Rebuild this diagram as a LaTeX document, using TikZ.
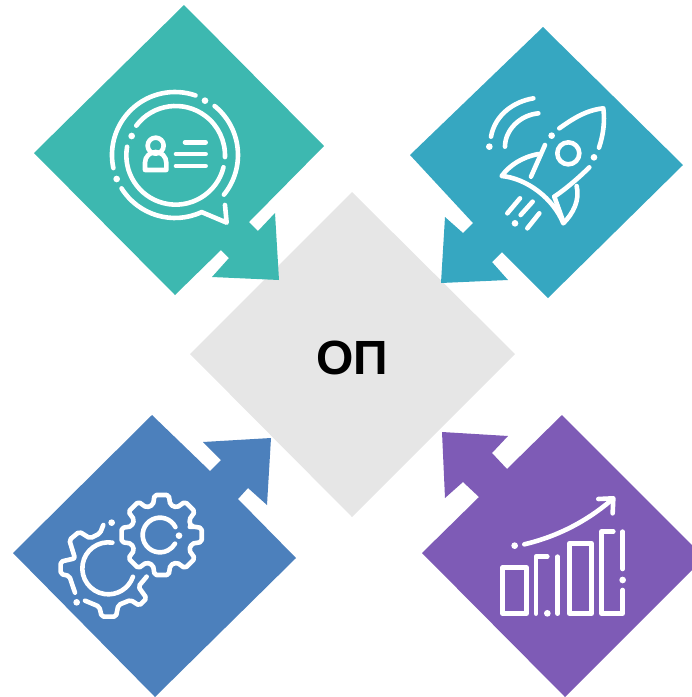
\documentclass[tikz,border=0pt]{standalone}
\usepackage{fontspec}
\setmainfont{Liberation Sans}
\definecolor{cteal}{HTML}{3DB8B0}
\definecolor{ccyan}{HTML}{36A7C1}
\definecolor{cblue}{HTML}{4C80BC}
\definecolor{cpurple}{HTML}{7E5BB6}
\definecolor{cgray}{HTML}{E6E6E6}
\tikzset{
  icon/.style={draw=white,line width=4.6pt,line cap=round,line join=round},
  icondot/.style={fill=white,draw=none},
}
\newcommand{\iarc}[5]{\draw[icon] ([shift={(#3:#5)}]#1,#2) arc[start angle=#3,end angle=#4,radius=#5];}
\newcommand{\idot}[2]{\fill[icondot] (#1,#2) circle[radius=10];}
\begin{document}
\begin{tikzpicture}[x=1pt,y=-1pt]
\useasboundingbox (0,0) rectangle (692,697);
% centre
\fill[cgray] (190,354) -- (352,192) -- (515,354) -- (352,517) -- cycle;
\node[font=\fontsize{48}{52}\selectfont\bfseries,text=black,inner sep=0pt] (op) at (352,358) {ОП};
% teal
\fill[cteal] (34,153) -- (184,5) -- (324,146) -- (249,222) -- (258,231) -- (275,213) -- (279,280) -- (212,277) -- (229,258) -- (221,250) -- (175,295) -- cycle;
% cyan
\fill[ccyan] (543,27) -- (683,165) -- (548,298) -- (502,252) -- (492,262) -- (508,280) -- (441,283) -- (445,217) -- (463,233) -- (473,223) -- (410,155) -- cycle;
% blue
\fill[cblue] (13,553) -- (152,415) -- (210,471) -- (221,460) -- (203,442) -- (271,438) -- (267,505) -- (248,488) -- (238,499) -- (296,558) -- (155,697) -- cycle;
% purple
\fill[cpurple] (422,553) -- (479,497) -- (463,482) -- (445,498) -- (442,432) -- (508,436) -- (492,453) -- (507,469) -- (562,415) -- (692,545) -- (692,570) -- (565,697) -- cycle;
% icon 1
\begin{scope}[shift={(90,80)},scale=0.3333]
\iarc{255}{225}{168}{289}{189}
\iarc{255}{225}{309}{399}{189}
\draw[icon] ([shift={(148:189)}]255,225) arc[start angle=148,end angle=65,radius=189] -- (410,428) -- (405,375);
\iarc{257}{226}{217}{362}{148}
\iarc{257}{226}{14}{190}{148}
\idot{345}{62}\idot{80}{297}\idot{125}{168}
\draw[icon] (197,197) circle[radius=24];
\draw[icon] (165,270) -- (165,248) arc[start angle=180,end angle=360,radius=32] -- (229,270) -- cycle;
\draw[icon] (285,187) -- (347,187);
\draw[icon] (258,222) -- (347,222);
\draw[icon] (258,258) -- (347,258);
\end{scope}
% icon 2
\begin{scope}[shift={(430,80)},scale=0.3333]
\draw[icon] (183,170) .. controls (195,105) and (250,65) .. (310,55);
\draw[icon] (225,200) .. controls (225,150) and (270,105) .. (325,100);
\idot{178}{200}\idot{365}{167}\idot{492}{232}\idot{255}{430}
\draw[icon] (388,145) .. controls (430,115) and (470,90) .. (520,85) .. controls (525,125) and (520,165) .. (507,203);
\draw[icon] (478,262) .. controls (450,290) and (410,325) .. (373,350);
\draw[icon] (345,195) -- (303,290);
\draw[icon] (325,222) .. controls (275,232) and (240,255) .. (215,288) .. controls (290,295) and (370,355) .. (400,430) .. controls (430,400) and (450,360) .. (440,318);
\draw[icon] (373,350) -- (400,425);
\draw[icon] (415,220) circle[radius=33];
\draw[icon] (232,400) -- (270,355);
\draw[icon] (272,405) -- (308,365);
\draw[icon] (292,445) -- (328,400);
\end{scope}
% icon 3
\begin{scope}[shift={(40,430)},scale=0.3333]
\draw[icon,rounded corners=2pt] ([shift={(-16:92)}]365,315)
  foreach \a in {0,45,...,315} { -- ([shift={({\a-16}:94)}]365,315) -- ([shift={({\a-10}:122)}]365,315) -- ([shift={({\a+10}:122)}]365,315) -- ([shift={({\a+16}:94)}]365,315) } -- cycle;
\iarc{360}{315}{-27}{-330}{52}
\idot{417}{317}
\draw[icon,rounded corners=2pt] (320,440) -- (295,470) -- (320,505) -- (298,527) -- (272,510) -- (235,525) -- (228,560) -- (185,560) -- (178,530) -- (135,512);
\draw[icon,rounded corners=2pt] (105,488) -- (88,438) -- (62,432) -- (62,395) -- (105,385) -- (88,330) -- (118,305) -- (150,325) -- (180,310) -- (190,285);
\iarc{205}{415}{279}{19}{78}
\idot{215}{278}\idot{110}{517}
\end{scope}
% icon 4
\begin{scope}[shift={(430,425)},scale=0.3333]
\draw[icon] (283,358) .. controls (380,335) and (470,290) .. (548,222);
\draw[icon] (505,222) -- (550,220) -- (548,265);
\idot{254}{362}
\draw[icon] (218,428) rectangle (290,566);
\draw[icon] (318,566) -- (318,395) -- (352,395);
\idot{352}{565}
\draw[icon] (383,395) -- (383,566);
\draw[icon] (418,355) rectangle (485,566);
\draw[icon] (578,495) -- (578,566) -- (515,566) -- (515,320) -- (550,320);
\draw[icon] (578,320) -- (578,432);
\idot{578}{465}
\end{scope}
\end{tikzpicture}
\end{document}
